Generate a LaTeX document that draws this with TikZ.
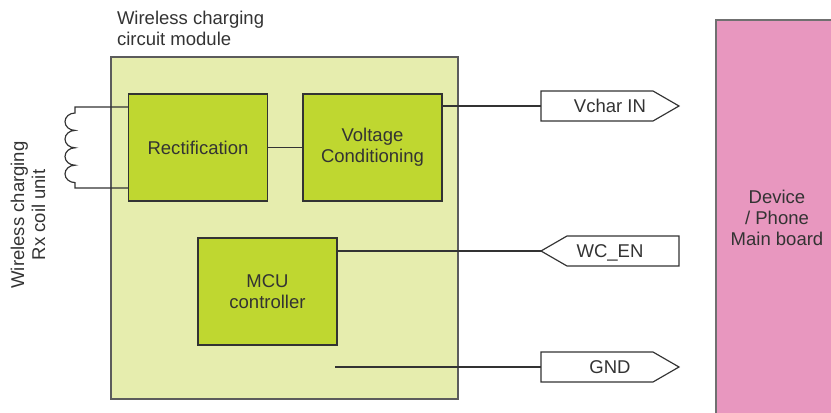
\documentclass[tikz,border=0pt]{standalone}
\usepackage{fontspec}
\setmainfont{Liberation Sans}
\definecolor{modulecol}{HTML}{E6EDAE}
\definecolor{blockcol}{HTML}{BFD730}
\definecolor{boardcol}{HTML}{E897BF}
\definecolor{linecol}{HTML}{333333}
\begin{document}
\begin{tikzpicture}[x=0.03cm,y=0.03cm,line width=1pt,
	every node/.style={text=linecol,outer sep=0pt,align=center,font=\fontsize{15.8}{17.9}\selectfont},
	blockbox/.style={draw=linecol,fill=blockcol,minimum width=4.17cm,minimum height=3.21cm},
	tagbox/.style={minimum width=4.14cm,minimum height=0.9cm,inner sep=0pt,text height=11.3pt,text depth=0pt}]
\useasboundingbox (0,0) rectangle (831,412);
\node[draw=linecol!80,fill=modulecol,minimum width=10.41cm,minimum height=10.26cm] (module) at (284.5,184) {};
\node[draw=linecol!70,fill=boardcol,minimum width=3.66cm,minimum height=11.88cm] (board) at (777,194) {Device\\/ Phone\\Main board};
\node[blockbox] (rect) at (198,264.5) {Rectification};
\node[blockbox] (volt) at (372.5,264.5) {Voltage\\Conditioning};
\node[blockbox] (mcu) at (267.5,120.5) {MCU\\controller};
\node[tagbox] (vchar) at (610,306) {Vchar IN};
\node[tagbox] (wcen) at (610,161) {WC\_EN};
\node[tagbox] (gnd) at (610,45) {GND};
\node[align=left,anchor=north west,inner sep=0pt] (modlabel) at (117,401) {Wireless charging\\circuit module};
\node[rotate=90] (coillabel) at (28,197) {Wireless charging\\Rx coil unit};
\coordinate (coiltop) at (75,305);
\coordinate (coilbot) at (75,224);
\coordinate (gndstart) at (335,45);
% tags
\foreach \t in {vchar,gnd}
	\draw[linecol,line join=miter] (\t.south west) -- (\t.north west) -- ++(112,0) -- (\t.east) -- ([xshift=-0.78cm]\t.south east) -- cycle;
\draw[linecol] (wcen.west) -- ([xshift=0.78cm]wcen.north west) -- (wcen.north east) -- (wcen.south east) -- ([xshift=0.78cm]wcen.south west) -- cycle;
% connectors
\draw[linecol] (rect) -- (volt);
\draw[linecol] (volt.east |- vchar.west) -- (vchar.west);
\draw[linecol] (mcu.east |- wcen.west) -- (wcen.west);
\draw[linecol] (gndstart) -- (gnd.west);
\draw[linecol] (rect.west |- coiltop) -- (coiltop) -- ++(0,-6)
	arc[start angle=90,end angle=270,x radius=10,y radius=8.7]
	arc[start angle=90,end angle=270,x radius=10,y radius=8.7]
	arc[start angle=90,end angle=270,x radius=10,y radius=8.7]
	arc[start angle=90,end angle=270,x radius=10,y radius=8.7]
	-- (coilbot) -- (rect.west |- coilbot);
\end{tikzpicture}
\end{document}
